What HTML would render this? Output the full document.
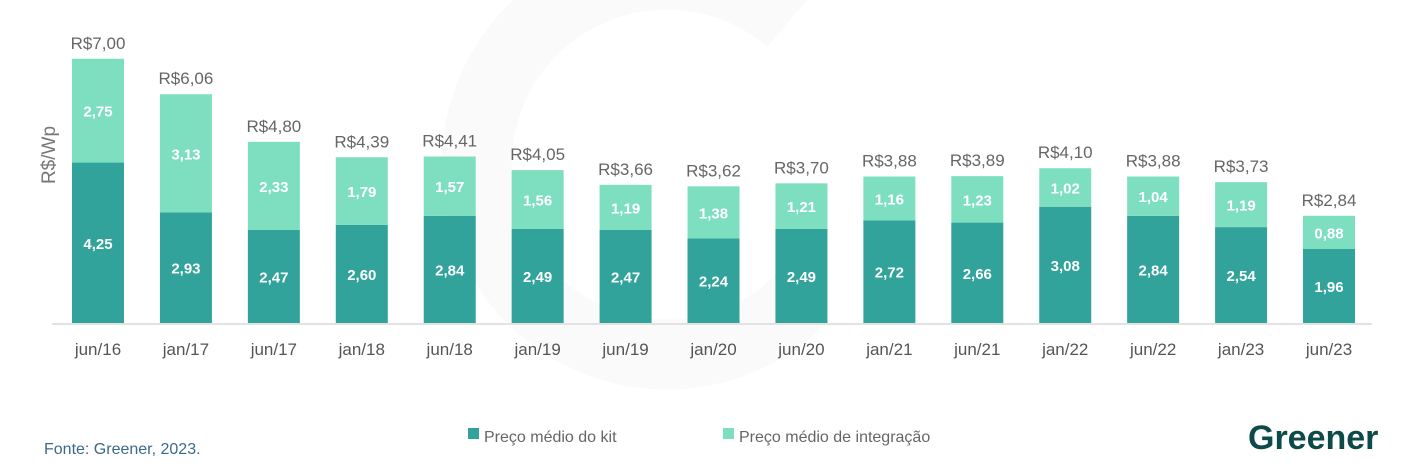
<!DOCTYPE html>
<html><head><meta charset="utf-8"><style>
body{margin:0;background:#fff;width:1414px;height:463px;overflow:hidden;font-family:"Liberation Sans",sans-serif}
</style></head><body>
<svg id="c" width="1414" height="463" xmlns="http://www.w3.org/2000/svg">
<g opacity="0.03">
<path d="M790 20 A190 190 0 1 0 800 300" fill="none" stroke="#555" stroke-width="70"/>
</g>
<text x="55" y="155" transform="rotate(-90 55 155)" text-anchor="middle" font-size="19" fill="#777">R$/Wp</text>
<line x1="52" y1="324" x2="1372" y2="324" stroke="#d9d9d9" stroke-width="1.5"/>
<g id="bars"></g>
<rect x="468" y="428" width="11" height="11" fill="#31a39a"/>
<text x="484" y="442" font-size="16" fill="#666">Preço médio do kit</text>
<rect x="723" y="428" width="11" height="11" fill="#7ddfbf"/>
<text x="739" y="442" font-size="16" fill="#666">Preço médio de integração</text>
<text x="44" y="454" font-size="16" fill="#3a6a8a">Fonte: Greener, 2023.</text>
<text x="1248" y="449" font-size="34" font-weight="bold" fill="#0f4a4a">Greener</text>
</svg>
<script>
const categories=["jun/16","jan/17","jun/17","jan/18","jun/18","jan/19","jun/19","jan/20","jun/20","jan/21","jun/21","jan/22","jun/22","jan/23","jun/23"];
const kit=[4.25,2.93,2.47,2.60,2.84,2.49,2.47,2.24,2.49,2.72,2.66,3.08,2.84,2.54,1.96];
const integration=[2.75,3.13,2.33,1.79,1.57,1.56,1.19,1.38,1.21,1.16,1.23,1.02,1.04,1.19,0.88];
const totals=["7,00","6,06","4,80","4,39","4,41","4,05","3,66","3,62","3,70","3,88","3,89","4,10","3,88","3,73","2,84"];
const NS="http://www.w3.org/2000/svg";
const g=document.getElementById("bars");
const x=i=>98+i*87.93;
const y=v=>323-v*37.75;
const fmt=v=>v.toFixed(2).replace(".",",");
function mk(t,a){const e=document.createElementNS(NS,t);for(const k in a)e.setAttribute(k,a[k]);g.appendChild(e);return e;}
categories.forEach((c,i)=>{
  const bw=52,x0=x(i)-bw/2;
  const yk=y(kit[i]),yt=y(kit[i]+integration[i]);
  let r=mk("rect",{x:x0,y:yk,width:bw,height:323-yk,fill:"#31a39a"});
  
  
  r=mk("rect",{x:x0,y:yt,width:bw,height:yk-yt,fill:"#7ddfbf"});
  
  
  let t=mk("text",{x:x(i),y:(yk+323)/2+6,"text-anchor":"middle","font-size":"15","font-weight":"bold",fill:"#fff"});
  t.textContent=fmt(kit[i]);
  
  
  t=mk("text",{x:x(i),y:(yt+yk)/2+6,"text-anchor":"middle","font-size":"15","font-weight":"bold",fill:"#fff"});
  t.textContent=fmt(integration[i]);
  
  
  t=mk("text",{x:x(i),y:yt-10,"text-anchor":"middle","font-size":"17",fill:"#666"});
  t.textContent="R$"+totals[i];
  
  
  t=mk("text",{x:x(i),y:355,"text-anchor":"middle","font-size":"17",fill:"#555"});
  t.textContent=c;
  
  
});
</script>
</body></html>
